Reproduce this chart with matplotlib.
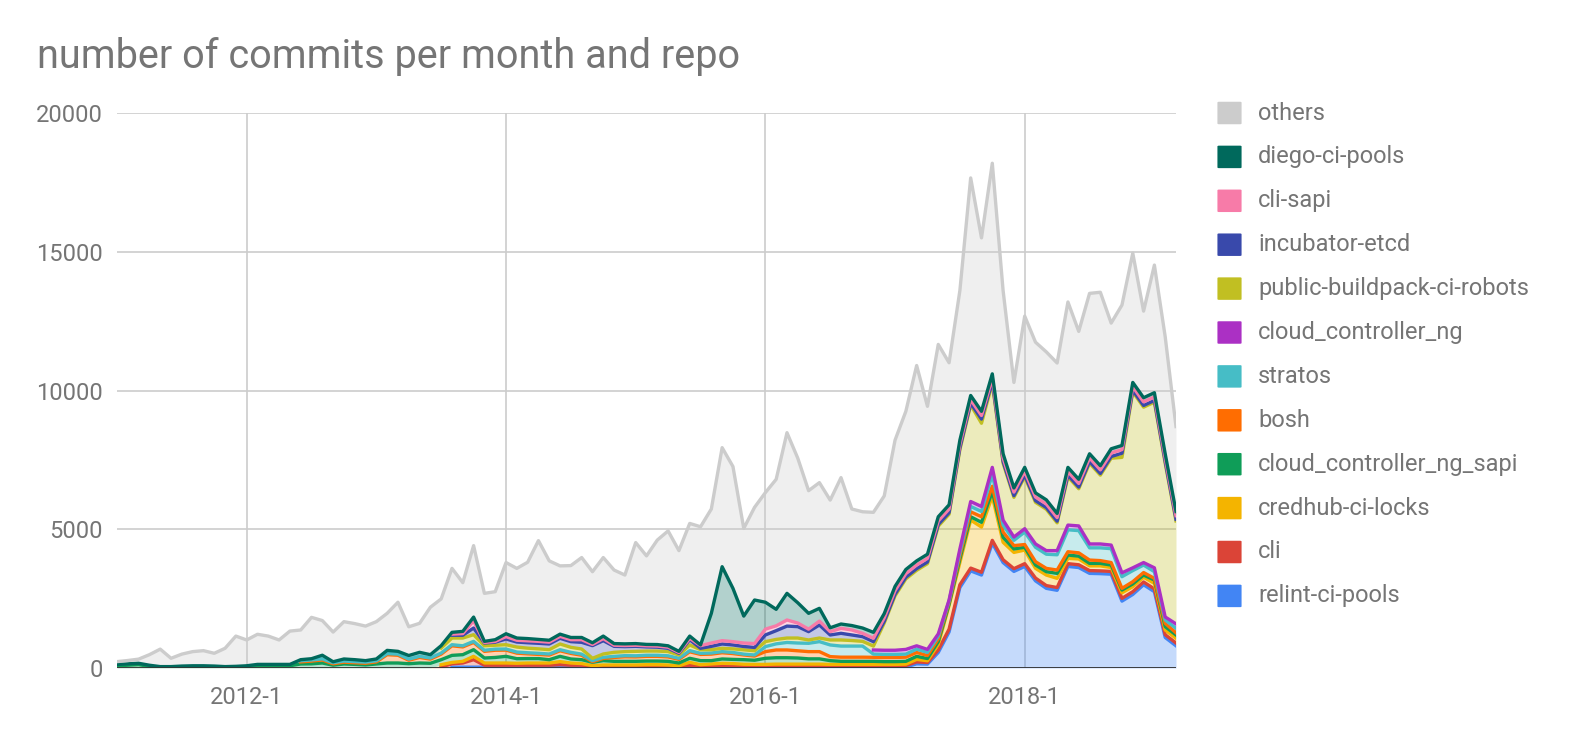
import numpy as np
import pandas as pd
import matplotlib
matplotlib.use("Agg")
import matplotlib.pyplot as plt
from matplotlib.patches import FancyBboxPatch

plt.rcParams['font.family'] = ['Roboto', 'DejaVu Sans']

months = pd.period_range("2011-01", periods=99, freq="M")
tick_months = ["2012-01", "2014-01", "2016-01", "2018-01"]

# commits per month, one line per year (2011 ... 2019)
relint_ci_pools = [
    0, 0, 0, 0, 0, 0, 0, 0, 0, 0, 0, 0,
    0, 0, 0, 0, 0, 0, 0, 0, 0, 0, 0, 0,
    0, 0, 0, 0, 0, 0, 0, 30, 30, 30, 30, 30,
    30, 30, 30, 30, 30, 30, 30, 30, 30, 30, 30, 30,
    30, 30, 30, 30, 30, 30, 30, 30, 30, 30, 30, 30,
    30, 30, 30, 30, 30, 30, 30, 30, 30, 30, 30, 40,
    40, 40, 150, 140, 560, 1300, 2900, 3500, 3350, 4500, 3800, 3480,
    3660, 3140, 2870, 2800, 3660, 3620, 3410, 3400, 3380, 2410, 2650, 3000,
    2750, 1100, 800]
cli = [
    0, 0, 0, 0, 0, 0, 0, 0, 0, 0, 0, 0,
    0, 0, 0, 0, 0, 0, 0, 0, 0, 0, 0, 0,
    0, 0, 0, 0, 0, 0, 40, 120, 150, 270, 70, 70,
    70, 70, 70, 70, 70, 90, 70, 70, 30, 40, 40, 40,
    40, 40, 40, 40, 30, 70, 40, 50, 60, 60, 50, 50,
    50, 50, 50, 50, 50, 50, 50, 50, 50, 50, 50, 40,
    40, 50, 70, 60, 90, 100, 100, 100, 100, 100, 100, 100,
    100, 100, 100, 100, 100, 100, 100, 100, 100, 100, 100, 100,
    100, 100, 100]
credhub_ci_locks = [
    0, 0, 0, 0, 0, 0, 0, 0, 0, 0, 0, 0,
    0, 0, 0, 0, 0, 0, 0, 0, 0, 0, 0, 0,
    0, 0, 0, 0, 0, 0, 80, 50, 60, 120, 80, 80,
    80, 70, 80, 80, 80, 110, 80, 60, 25, 40, 40, 40,
    40, 50, 50, 40, 20, 105, 50, 65, 80, 70, 55, 50,
    50, 60, 60, 60, 60, 60, 50, 50, 50, 50, 50, 50,
    50, 50, 90, 60, 200, 850, 800, 1730, 1630, 1590, 630, 585,
    490, 350, 380, 330, 190, 210, 170, 180, 140, 200, 180, 170,
    200, 170, 170]
cloud_controller_ng_sapi = [
    80, 100, 120, 60, 30, 30, 40, 50, 50, 40, 30, 40,
    50, 80, 80, 80, 80, 145, 150, 180, 100, 145, 130, 110,
    145, 180, 180, 155, 180, 170, 180, 255, 240, 240, 180, 200,
    240, 165, 160, 160, 120, 190, 145, 140, 120, 155, 130, 130,
    130, 130, 130, 130, 100, 145, 145, 120, 155, 150, 165, 150,
    220, 230, 230, 220, 190, 190, 135, 110, 110, 110, 110, 100,
    100, 100, 110, 80, 100, 50, 130, 120, 170, 180, 180, 125,
    100, 120, 120, 180, 120, 100, 90, 90, 90, 100, 100, 80,
    120, 120, 120]
bosh = [
    0, 0, 0, 0, 0, 0, 0, 0, 0, 0, 0, 0,
    0, 0, 0, 0, 0, 75, 100, 110, 50, 65, 60, 60,
    75, 300, 280, 125, 200, 150, 200, 345, 280, 260, 240, 260,
    225, 200, 170, 150, 165, 200, 200, 160, 20, 80, 140, 165,
    160, 170, 170, 160, 130, 235, 225, 235, 225, 210, 170, 150,
    240, 280, 280, 260, 260, 260, 145, 150, 150, 150, 145, 150,
    150, 150, 140, 110, 100, 80, 120, 180, 200, 180, 190, 120,
    100, 120, 120, 120, 120, 120, 120, 100, 90, 60, 80, 90,
    60, 120, 80]
stratos = [
    0, 0, 0, 0, 0, 0, 0, 0, 0, 0, 0, 0,
    0, 0, 0, 0, 0, 40, 40, 40, 40, 40, 40, 40,
    40, 40, 40, 40, 40, 40, 40, 40, 40, 40, 40, 40,
    40, 40, 40, 40, 40, 40, 40, 40, 40, 40, 40, 40,
    40, 40, 40, 40, 40, 40, 40, 40, 40, 40, 30, 40,
    180, 220, 270, 280, 300, 360, 420, 400, 400, 400, 115, 110,
    110, 110, 120, 110, 100, 40, 120, 190, 190, 430, 250, 190,
    450, 520, 510, 550, 790, 800, 440, 460, 500, 420, 400, 270,
    240, 120, 160]
cloud_controller_ng = [
    0, 0, 0, 0, 0, 0, 0, 0, 0, 0, 0, 0,
    0, 0, 0, 0, 0, 0, 0, 0, 0, 0, 0, 0,
    0, 0, 0, 0, 0, 0, 0, 0, 0, 0, 0, 0,
    0, 0, 0, 0, 0, 0, 0, 0, 0, 0, 0, 0,
    0, 0, 0, 0, 0, 0, 0, 0, 0, 0, 0, 0,
    0, 0, 0, 0, 0, 0, 0, 0, 0, 0, 150, 150,
    150, 170, 120, 110, 80, 30, 120, 180, 180, 250, 180, 120,
    120, 120, 130, 150, 170, 170, 140, 140, 130, 140, 100, 90,
    140, 110, 160]
public_buildpack_ci_robots = [
    0, 0, 0, 0, 0, 0, 0, 0, 0, 0, 0, 0,
    0, 0, 0, 0, 0, 0, 0, 0, 0, 0, 0, 0,
    0, 0, 0, 0, 0, 0, 180, 240, 280, 240, 160, 140,
    155, 180, 165, 160, 155, 205, 180, 185, 85, 120, 145, 145,
    160, 150, 150, 150, 120, 205, 130, 120, 120, 130, 155, 150,
    180, 160, 160, 180, 120, 130, 180, 220, 200, 170, 140, 980,
    1960, 2540, 2720, 3090, 3880, 3090, 3580, 3480, 3000, 3030, 2050, 1430,
    1870, 1500, 1490, 1000, 1740, 1340, 2910, 2480, 3130, 4160, 6340, 5600,
    5970, 5540, 3710]
incubator_etcd = [
    0, 0, 0, 0, 0, 0, 0, 0, 0, 0, 0, 0,
    0, 0, 0, 0, 0, 0, 0, 0, 0, 0, 0, 0,
    0, 0, 0, 0, 0, 0, 0, 100, 100, 240, 100, 110,
    205, 180, 195, 200, 205, 205, 205, 240, 455, 480, 215, 180,
    180, 150, 140, 120, 60, 190, 50, 120, 155, 140, 120, 120,
    240, 315, 430, 410, 300, 470, 180, 240, 200, 170, 160, 60,
    60, 60, 60, 60, 60, 60, 60, 60, 150, 60, 60, 60,
    60, 60, 60, 60, 60, 60, 60, 60, 60, 150, 60, 60,
    60, 60, 60]
cli_sapi = [
    0, 0, 0, 0, 0, 0, 0, 0, 0, 0, 0, 0,
    0, 0, 0, 0, 0, 0, 0, 0, 0, 0, 0, 0,
    0, 0, 0, 0, 0, 0, 0, 40, 60, 260, 20, 30,
    85, 65, 70, 70, 65, 70, 70, 95, 45, 75, 40, 40,
    40, 40, 40, 40, 30, 50, 95, 120, 120, 120, 125, 140,
    210, 175, 220, 130, 90, 140, 120, 180, 180, 120, 120, 130,
    130, 130, 130, 130, 130, 130, 130, 130, 130, 130, 130, 130,
    130, 130, 130, 130, 130, 130, 130, 130, 130, 130, 130, 130,
    130, 130, 130]
diego_ci_pools = [
    50, 50, 50, 40, 20, 20, 30, 30, 30, 30, 20, 20,
    30, 50, 50, 50, 50, 40, 45, 130, 35, 75, 70, 55,
    65, 115, 100, 130, 145, 120, 85, 65, 80, 135, 40, 60,
    105, 80, 80, 70, 70, 80, 80, 80, 60, 90, 60, 60,
    60, 50, 55, 50, 40, 80, 25, 1070, 2665, 1920, 970, 1570,
    970, 595, 960, 730, 570, 460, 140, 155, 160, 190, 215, 150,
    150, 150, 150, 150, 150, 150, 150, 150, 150, 150, 150, 150,
    150, 150, 150, 150, 150, 150, 150, 150, 150, 150, 150, 150,
    150, 150, 150]
others = [
    100, 120, 150, 380, 630, 300, 430, 510, 545, 460, 660, 1090,
    930, 1085, 1020, 880, 1200, 1070, 1490, 1250, 1070, 1345, 1300, 1245,
    1345, 1335, 1770, 1035, 1045, 1710, 1685, 2305, 1755, 2575, 1730, 1730,
    2565, 2510, 2750, 3560, 2860, 2460, 2590, 2880, 2560, 2830, 2650, 2480,
    3640, 3190, 3765, 4140, 3630, 4060, 4260, 3760, 4290, 4390, 3160, 3340,
    3950, 4685, 5790, 5210, 4420, 4530, 4600, 5275, 4200, 4190, 4325, 4240,
    5270, 5700, 7040, 5330, 6210, 5120, 5390, 7840, 6250, 7590, 5880, 3800,
    5450, 5430, 5330, 5420, 5960, 5330, 5780, 6250, 4530, 5060, 4660, 3120,
    4600, 4220, 3060]

# bottom of the stack first
series = [
    ("relint-ci-pools", relint_ci_pools, "#4285f4"),
    ("cli", cli, "#db4437"),
    ("credhub-ci-locks", credhub_ci_locks, "#f4b400"),
    ("cloud_controller_ng_sapi", cloud_controller_ng_sapi, "#0f9d58"),
    ("bosh", bosh, "#ff6d01"),
    ("stratos", stratos, "#46bdc6"),
    ("cloud_controller_ng", cloud_controller_ng, "#ab30c4"),
    ("public-buildpack-ci-robots", public_buildpack_ci_robots, "#c1bf22"),
    ("incubator-etcd", incubator_etcd, "#3949ab"),
    ("cli-sapi", cli_sapi, "#f77ba8"),
    ("diego-ci-pools", diego_ci_pools, "#00695c"),
    ("others", others, "#cccccc"),
]

W, H = 1570, 742
txt = '#757575'
fs = 17
x = np.arange(len(months))

fig = plt.figure(figsize=(W / 100, H / 100), dpi=100)
ax = fig.add_axes([117 / W, 1 - 668 / H, (1176 - 117) / W, (668 - 113) / H])

bottom = np.zeros(len(x))
layers = []
for name, vals, col in series:
    v = np.array(vals, dtype=float)
    top = bottom + v
    ax.fill_between(x, bottom, top, color=col, alpha=0.3, lw=0, zorder=2)
    layers.append((top, v, col))
    bottom = top
for top, v, col in layers:
    ax.plot(x, np.where(v > 0, top, np.nan), color=col, lw=2.4, zorder=3)

ax.axhline(0, color='#333333', lw=1.3, zorder=4)

ax.set_xlim(0, len(x) - 1)
ax.set_ylim(0, 20000)
ax.set_yticks(range(0, 20001, 5000))
ticks = [list(months.astype(str)).index(m) for m in tick_months]
ax.set_xticks(ticks)
ax.set_xticklabels([f"{months[t].year}-{months[t].month}" for t in ticks])
ax.grid(color='#cccccc', lw=1.2)
ax.set_axisbelow(True)
for s in ax.spines.values():
    s.set_visible(False)
ax.tick_params(length=0, labelsize=fs, labelcolor=txt)
ax.tick_params(axis='y', pad=10)
ax.tick_params(axis='x', pad=13)

fig.text(37 / W, 1 - 68 / H, "number of commits per month and repo",
         fontsize=28.5, color=txt, va='baseline', ha='left')

# legend, top of stack first
for k, (name, vals, col) in enumerate(reversed(series)):
    yc = 113 + k * 43.9
    fig.add_artist(FancyBboxPatch((1219 / W, 1 - (yc + 10.5) / H), 21 / W, 21 / H,
                                  boxstyle="round,pad=0.001",
                                  transform=fig.transFigure, color=col, lw=0))
    fig.text(1258 / W, 1 - yc / H, name, fontsize=fs, color=txt,
             va='center', ha='left')

fig.savefig("out.png", dpi=100)
